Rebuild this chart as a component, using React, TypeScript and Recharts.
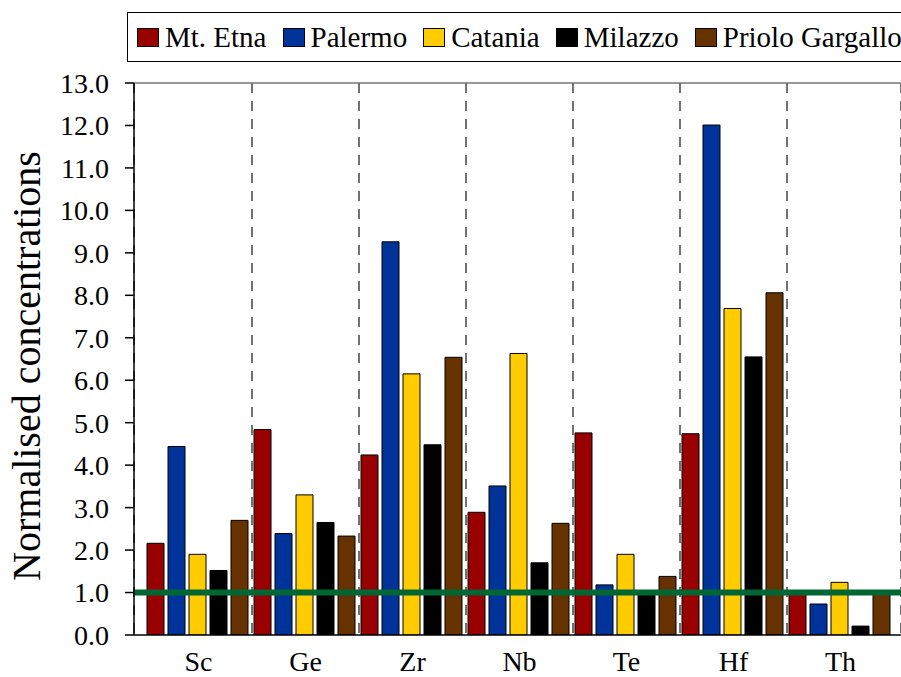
import React from 'react';
import {
  BarChart,
  Bar,
  XAxis,
  YAxis,
  CartesianGrid,
  ReferenceLine,
} from 'recharts';

const elements = ['Sc', 'Ge', 'Zr', 'Nb', 'Te', 'Hf', 'Th'];

const mtEtna = [2.16, 4.84, 4.24, 2.89, 4.76, 4.74, 1.0];
const palermo = [4.44, 2.39, 9.26, 3.51, 1.18, 12.01, 0.73];
const catania = [1.9, 3.3, 6.15, 6.63, 1.9, 7.69, 1.24];
const milazzo = [1.52, 2.65, 4.48, 1.7, 1.0, 6.55, 0.21];
const priolo = [2.7, 2.33, 6.54, 2.63, 1.38, 8.06, 1.0];

const yTicks = [0, 1, 2, 3, 4, 5, 6, 7, 8, 9, 10, 11, 12, 13];
const baseline = 1;

const series = [
  { key: 'etna', name: 'Mt. Etna', color: '#990000', values: mtEtna },
  { key: 'palermo', name: 'Palermo', color: '#003399', values: palermo },
  { key: 'catania', name: 'Catania', color: '#FFCC00', values: catania },
  { key: 'milazzo', name: 'Milazzo', color: '#000000', values: milazzo },
  { key: 'priolo', name: 'Priolo Gargallo', color: '#663300', values: priolo },
];

const data = elements.map((el, i) => {
  const row: Record<string, string | number> = { el, pos: i + 0.5 };
  series.forEach((s) => {
    row[s.key] = s.values[i];
  });
  return row;
});

// boundaries between categories, on a hidden numeric axis
const separators = elements.slice(1).map((_, i) => i + 1);

const FONT = '"Liberation Serif", "Times New Roman", serif';

function LegendBox() {
  return (
    <div
      style={{
        position: 'absolute',
        left: 127,
        top: 12,
        width: 800,
        height: 50,
        border: '1px solid #000',
        display: 'flex',
        alignItems: 'center',
        paddingLeft: 9,
        boxSizing: 'border-box',
        fontFamily: FONT,
        fontSize: 29,
        color: '#000',
        whiteSpace: 'nowrap',
      }}
    >
      {series.map((s) => (
        <div key={s.key} style={{ display: 'flex', alignItems: 'center', marginRight: 16 }}>
          <span
            style={{
              display: 'inline-block',
              width: 22,
              height: 19,
              background: s.color,
              border: '1px solid #000',
              boxSizing: 'border-box',
              marginRight: 6,
            }}
          />
          <span style={{ fontFamily: FONT }}>{s.name}</span>
        </div>
      ))}
    </div>
  );
}

export default function App() {
  return (
    <div style={{ position: 'absolute', left: 0, top: 0, width: 901, height: 677, background: '#fff', overflow: 'hidden' }}>
      <BarChart
        width={901}
        height={677}
        data={data}
        margin={{ top: 83, right: 0, bottom: 0, left: 0 }}
        barCategoryGap={2}
        barGap={4}
      >
        <XAxis
          dataKey="el"
          xAxisId="cat"
          height={42}
          padding={{ left: 11, right: 7 }}
          axisLine={{ stroke: '#000', strokeWidth: 1.5 }}
          tickLine={false}
          tickSize={0}
          tickMargin={16}
          tick={{ fill: '#000', fontSize: 28, fontFamily: FONT }}
        />
        <XAxis
          xAxisId="sep"
          type="number"
          dataKey="pos"
          domain={[0, elements.length]}
          ticks={separators}
          padding={{ left: 11, right: 7 }}
          hide
        />
        <YAxis
          width={134}
          domain={[0, 13]}
          ticks={yTicks}
          interval={0}
          allowDataOverflow
          axisLine={{ stroke: '#000', strokeWidth: 1.5 }}
          tickLine={{ stroke: '#000', strokeWidth: 1.5 }}
          tickSize={9}
          tickMargin={16}
          tickFormatter={(v: number) => v.toFixed(1)}
          tick={{ fill: '#000', fontSize: 28, fontFamily: FONT }}
          label={(props: any) => {
            const vb = props.viewBox || { x: 0, y: 83, width: 134, height: 552 };
            return (
              <text
                transform={`translate(${vb.x + 40}, ${vb.y + vb.height / 2 + 7}) rotate(-90)`}
                textAnchor="middle"
                fontSize={40}
                fontFamily={FONT}
                fill="#000"
              >
                Normalised concentrations
              </text>
            );
          }}
        />
        <CartesianGrid
          xAxisId="sep"
          horizontal={false}
          vertical
          stroke="#444"
          strokeWidth={1.5}
          strokeDasharray="10 8"
        />
        <ReferenceLine xAxisId="cat" y={13} stroke="#777" strokeWidth={1.5} />
        {series.map((s) => (
          <Bar
            key={s.key}
            xAxisId="cat"
            dataKey={s.key}
            name={s.name}
            fill={s.color}
            stroke="#000"
            strokeWidth={1}
            isAnimationActive={false}
          />
        ))}
        <ReferenceLine xAxisId="cat" y={baseline} stroke="#006633" strokeWidth={6} />
      </BarChart>
      <LegendBox />
    </div>
  );
}
